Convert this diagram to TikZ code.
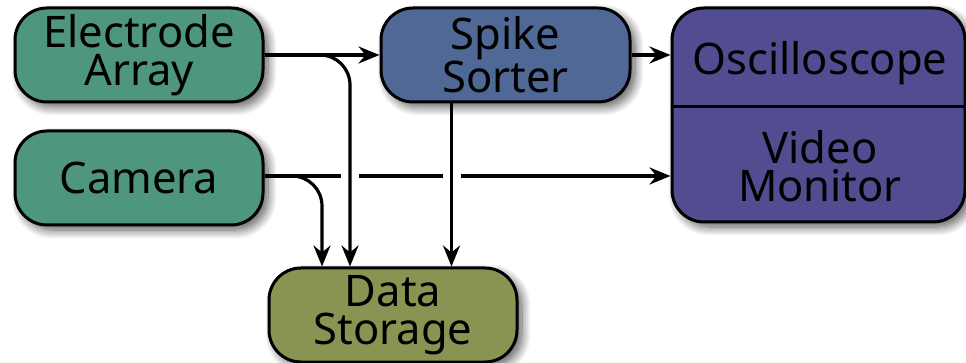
\documentclass[tikz,border=0pt]{standalone}
\usepackage{fontspec}
\setmainfont{Noto Sans}
\usetikzlibrary{arrows.meta,shadows.blur,calc}

\definecolor{sourcegreen}{RGB}{78,150,128}
\definecolor{sorterblue}{RGB}{79,104,150}
\definecolor{displaypurple}{RGB}{82,76,145}
\definecolor{storageolive}{RGB}{138,148,82}

\tikzset{
  label/.style={font=\fontsize{43.5}{38}\selectfont, align=center, inner sep=0pt},
  unit/.style={label, draw=black, line width=3pt, rounded corners=32pt,
    blur shadow={shadow xshift=5pt, shadow yshift=-5pt,
      shadow blur radius=9pt, shadow blur steps=12, shadow opacity=65}},
  flow/.style={draw=black, line width=3.2pt,
    -{Stealth[length=21pt,width=17pt,inset=7pt]}},
  gap/.style={draw=white, line width=7pt}
}

\begin{document}
\begin{tikzpicture}[x=1pt,y=-1pt]
  \useasboundingbox (0,0) rectangle (966,363);

  % processing units
  \node[unit, fill=sourcegreen, minimum width=248pt, minimum height=94pt]
    (elec) at (139,55) {Electrode\\Array};
  \node[unit, fill=sourcegreen, minimum width=248pt, minimum height=94pt]
    (cam) at (139,178) {Camera};
  \node[unit, fill=sorterblue, minimum width=249pt, minimum height=94pt]
    (sort) at (505.5,55) {Spike\\Sorter};
  \node[unit, fill=displaypurple, minimum width=293pt, minimum height=214pt]
    (mon) at (818.5,115) {};
  \node[unit, fill=storageolive, minimum width=248pt, minimum height=94pt]
    (store) at (393,315) {Data\\Storage};

  % two-part display unit
  \draw[line width=3pt] (mon.west |- 0,107) -- (mon.east |- 0,107);
  \node[label] (osc) at (820,63) {Oscilloscope};
  \node[label] (vid) at (820,166) {Video\\Monitor};

  % crossing points of the camera line
  \coordinate (camy) at ([yshift=2pt]cam.east);
  \coordinate (xa) at ([xshift=-43pt]store.north);
  \coordinate (xb) at ([xshift=-54pt]sort.south);

  % connectors
  \draw[flow] (elec.east) -- (sort.west);
  \draw[flow] (sort.east) -- (sort.east -| mon.west);
  \draw[flow] (camy) -- (camy -| mon.west);
  \draw[gap] ([xshift=-9pt]camy -| xa) -- ([xshift=9pt]camy -| xa);
  \draw[gap] ([xshift=-9pt]camy -| xb) -- ([xshift=9pt]camy -| xb);
  \draw[flow, rounded corners=30pt] (camy) -| ([xshift=-71pt]store.north);
  \draw[flow, rounded corners=30pt] (elec.east) -| (xa);
  \draw[flow] (xb) -- (xb |- store.north);
\end{tikzpicture}
\end{document}
